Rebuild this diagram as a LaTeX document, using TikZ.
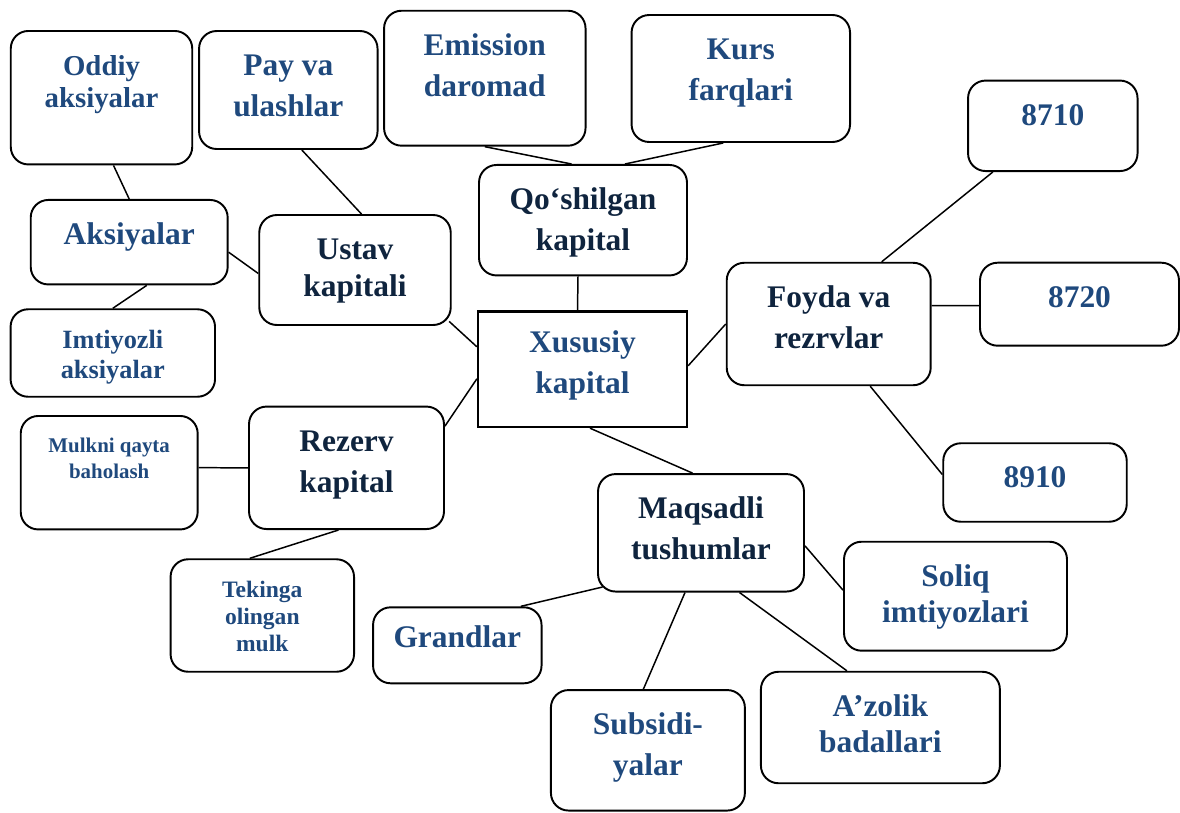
\documentclass[tikz,border=0pt]{standalone}
\usepackage{fontspec}
\setmainfont{Liberation Serif}
\usepackage{xcolor}
\usepackage{tikz}

\definecolor{leafblue}{HTML}{1F497D}
\definecolor{hubnavy}{HTML}{0F243E}

\begin{document}
\begin{tikzpicture}[
  x=0.02cm, y=-0.02cm,
  box/.style={
    draw,
    line width=1.1pt,
    rounded corners=10pt,
    inner sep=0pt,
    align=center,
    text height=1.71cm,
    text=leafblue,
    font=\fontsize{17.9}{23.2}\selectfont\bfseries
  },
  hub/.style={box, text=hubnavy},
  snug/.style={text height=1.62cm, font=\fontsize{17.9}{20.7}\selectfont\bfseries},
  conn/.style={line width=0.85pt}
]
\useasboundingbox (0,0) rectangle (1180,812);

% Centre of the scheme
\node[box, sharp corners, line width=1.3pt, minimum width=4.18cm, text height=1.64cm, text depth=0.67cm] (xusus) at (582.5,369.3) {Xususiy\\kapital};

% Ustav kapitali and its parts
\node[hub, snug, minimum width=3.83cm, text depth=0.58cm] (ustav) at (355,270) {Ustav\\kapitali};
\node[box, minimum width=3.94cm, text height=0.89cm, text depth=0.80cm] (aksiya) at (129.2,242.2) {Aksiyalar};
\node[box, minimum width=3.63cm, text height=1.53cm, text depth=1.14cm, font=\fontsize{16.4}{18.3}\selectfont\bfseries] (oddiy) at (101.5,97.7) {Oddiy\\aksiyalar};
\node[box, minimum width=4.09cm, text height=1.39cm, text depth=0.36cm, font=\fontsize{15}{17.4}\selectfont\bfseries] (imtiyoz) at (112.8,353) {Imtiyozli\\aksiyalar};
\node[box, minimum width=3.57cm, text depth=0.65cm] (pay) at (288.3,90) {Pay va\\ulashlar};

% Qo‘shilgan kapital
\node[hub, minimum width=4.16cm, text depth=0.50cm] (qosh) at (583,220.2) {Qo‘shilgan\\kapital};
\node[box, minimum width=4.03cm, text depth=0.99cm] (emis) at (484.8,78.2) {Emission\\daromad};
\node[box, minimum width=4.37cm, text depth=0.83cm] (kurs) at (740.8,78.5) {Kurs\\farqlari};

% Foyda va rezrvlar with account numbers
\node[hub, minimum width=4.08cm, text depth=0.74cm] (foyda) at (828.7,324) {Foyda va\\rezrvlar};
\node[box, minimum width=3.39cm, text height=0.89cm, text depth=0.92cm] (f8710) at (1052.8,125.8) {8710};
\node[box, minimum width=3.98cm, text height=0.89cm, text depth=0.77cm] (f8720) at (1079.5,304.2) {8720};
\node[box, minimum width=3.67cm, text height=0.89cm, text depth=0.68cm] (f8910) at (1035,482.5) {8910};

% Rezerv kapital
\node[hub, minimum width=3.90cm, text depth=0.74cm] (rezerv) at (346.5,467.8) {Rezerv\\kapital};
\node[box, minimum width=3.54cm, text height=1.26cm, text depth=1.01cm, font=\fontsize{11.9}{15.3}\selectfont\bfseries] (mulk) at (109.2,472.7) {Mulkni qayta\\baholash};
\node[box, minimum width=3.67cm, text height=1.85cm, text depth=0.40cm, font=\fontsize{13.4}{15.4}\selectfont\bfseries] (tekin) at (262.3,615.5) {Tekinga\\olingan\\mulk};

% Maqsadli tushumlar
\node[hub, minimum width=4.12cm, text depth=0.64cm] (maqsad) at (701,532.8) {Maqsadli\\tushumlar};
\node[box, snug, minimum width=4.46cm, text depth=0.56cm] (soliq) at (955.5,596.2) {Soliq\\imtiyozlari};
\node[box, minimum width=3.37cm, text height=0.80cm, text depth=0.72cm] (grand) at (457.3,645.3) {Grandlar};
\node[box, minimum width=3.88cm, text depth=0.70cm] (subs) at (647.9,750.3) {Subsidi-\\yalar};
\node[box, snug, minimum width=4.78cm, text depth=0.61cm] (azo) at (880.4,727.5) {A’zolik\\badallari};

% Links of the Ustav kapitali group
\draw[conn] ([xshift=0.24cm]oddiy.south) -- (aksiya.north);
\draw[conn] ([xshift=0.35cm]aksiya.south) -- (imtiyoz.north);
\draw[conn] ([yshift=-0.2cm]aksiya.east) -- ([yshift=-0.07cm]ustav.west);
\draw[conn] ([xshift=0.27cm]pay.south) -- ([xshift=0.13cm]ustav.north);
\draw[conn] ([xshift=-0.05cm,yshift=0.09cm]ustav.south east) -- ([yshift=0.45cm]xusus.west);

% Links of the Qo‘shilgan kapital group
\draw[conn] (emis.south) -- ([xshift=-0.23cm]qosh.north);
\draw[conn] ([xshift=-0.35cm]kurs.south) -- ([xshift=0.84cm]qosh.north);
\draw[conn] ([xshift=-0.1cm]qosh.south) -- ([xshift=-0.1cm]xusus.north);

% Links of the Foyda va rezrvlar group
\draw[conn] ([yshift=0.07cm]xusus.east) -- (foyda.west);
\draw[conn] ([xshift=1.06cm]foyda.north) -- ([xshift=-1.2cm]f8710.south);
\draw[conn] ([yshift=0.37cm]foyda.east) -- ([yshift=-0.03cm]f8720.west);
\draw[conn] ([xshift=0.83cm]foyda.south) -- ([yshift=0.16cm]f8910.west);

% Links of the Rezerv kapital group
\draw[conn] ([yshift=-0.41cm]rezerv.north east) -- ([yshift=-0.19cm]xusus.west);
\draw[conn] ([yshift=0.1cm]mulk.east) -- (rezerv.west);
\draw[conn] ([xshift=-0.16cm]rezerv.south) -- ([xshift=-0.25cm]tekin.north);

% Links of the Maqsadli tushumlar group
\draw[conn] ([xshift=0.15cm]xusus.south) -- ([xshift=-0.17cm]maqsad.north);
\draw[conn] ([xshift=0.11cm,yshift=0.11cm]maqsad.south west) -- ([xshift=1.27cm]grand.north);
\draw[conn] ([xshift=-0.32cm]maqsad.south) -- ([xshift=-0.09cm]subs.north);
\draw[conn] ([xshift=0.77cm]maqsad.south) -- ([xshift=-0.67cm]azo.north);
\draw[conn] ([yshift=-0.26cm]maqsad.east) -- ([yshift=0.12cm]soliq.west);
\end{tikzpicture}
\end{document}
